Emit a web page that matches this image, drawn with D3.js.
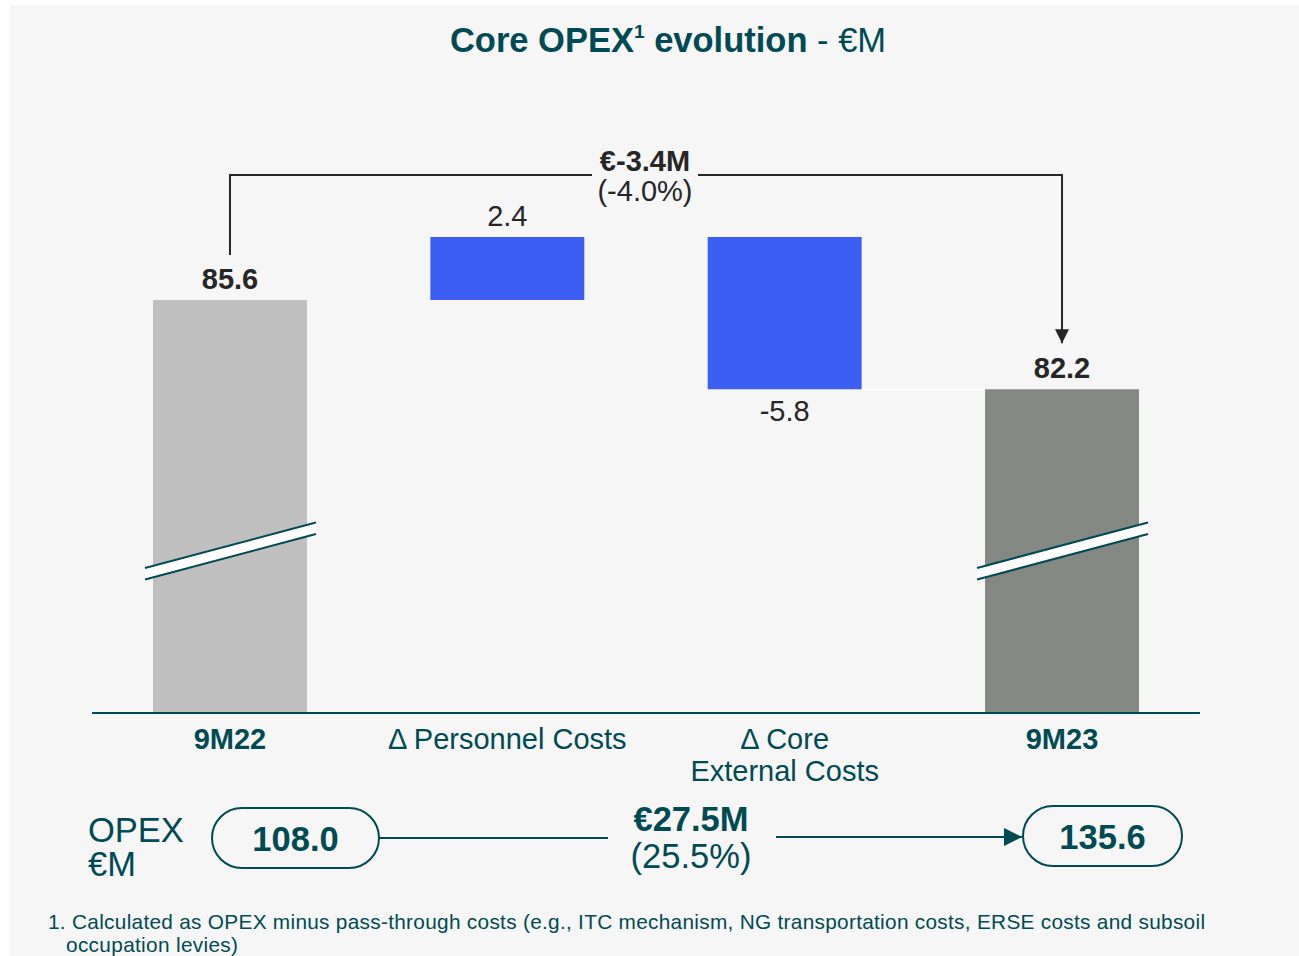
<!DOCTYPE html>
<html>
<head>
<meta charset="utf-8">
<script src="https://cdn.jsdelivr.net/npm/d3@7"></script>
<style>
  body { margin: 0; background: #fff; }
  svg { display: block; font-family: "Liberation Sans", Arial, sans-serif; }
</style>
</head>
<body>
<svg width="1299" height="956"></svg>
<script>
// data
const categories = ["9M22", "Δ Personnel Costs", "Δ Core|External Costs", "9M23"];
const values = [85.6, 2.4, -5.8, 82.2];
const kinds = ["total", "delta", "delta", "total"];
const deltaTotal = "€-3.4M", deltaPct = "(-4.0%)";
const opexValues = [108.0, 135.6];
const opexDelta = "€27.5M", opexPct = "(25.5%)";

const teal = "#004a53", dark = "#262626";
const svg = d3.select("svg");

svg.append("rect").attr("x", 10).attr("y", 5).attr("width", 1289).attr("height", 951)
    .attr("fill", "#f6f6f6");

// title
const title = svg.append("text").attr("x", 668).attr("y", 52)
    .attr("text-anchor", "middle").attr("fill", teal).attr("font-size", 34.5);
title.append("tspan").attr("font-weight", "bold").text("Core OPEX");
title.append("tspan").attr("font-weight", "bold").attr("font-size", 19).attr("dy", -14).text("1");
title.append("tspan").attr("dy", 14).attr("font-weight", "bold").text(" evolution");
title.append("tspan").text(" - €M");

// scales (broken axis: floor value sits on the baseline)
const x = d3.scaleBand().domain(categories).range([92, 1200]).paddingInner(0.445).paddingOuter(0.22);
const y = d3.scaleLinear().domain([69.87, 85.6]).range([713, 300]);

// compute waterfall steps
let run = 0;
const steps = values.map((v, i) => {
  let lo, hi;
  if (kinds[i] === "total") { lo = y.domain()[0]; hi = v; run = v; }
  else { const s = run; run = s + v; lo = Math.min(s, run); hi = Math.max(s, run); }
  return { cat: categories[i], v, kind: kinds[i], lo, hi, end: run, i };
});

const colors = ["#bfbfbf", "#3d5ef2", "#3d5ef2", "#848882"];

// connector between last delta and final total
svg.append("line")
    .attr("x1", x(categories[2]) + x.bandwidth()).attr("x2", x(categories[3]))
    .attr("y1", y(steps[2].end)).attr("y2", y(steps[2].end))
    .attr("stroke", "#ffffff").attr("stroke-width", 1.5);

svg.append("g").selectAll("rect").data(steps).enter().append("rect")
    .attr("x", d => x(d.cat)).attr("width", x.bandwidth())
    .attr("y", d => y(d.hi)).attr("height", d => y(d.lo) - y(d.hi))
    .attr("fill", (d, i) => colors[i]);

// value labels
svg.append("g").selectAll("text").data(steps).enter().append("text")
    .attr("x", d => x(d.cat) + x.bandwidth() / 2)
    .attr("y", d => d.kind === "delta" && d.v < 0 ? y(d.lo) + 31.5 : y(d.hi) - 11)
    .attr("text-anchor", "middle").attr("fill", dark).attr("font-size", 29)
    .attr("font-weight", d => d.kind === "total" ? "bold" : "normal")
    .text(d => d3.format(".1f")(d.v).replace("−", "-"));

// axis break marks on total bars
steps.filter(d => d.kind === "total").forEach(d => {
  const x0 = x(d.cat) - 8, x1 = x(d.cat) + x.bandwidth() + 9;
  const g = svg.append("g");
  g.append("polygon")
      .attr("points", `${x0},568 ${x1},522.5 ${x1},534 ${x0},579.5`)
      .attr("fill", "#ffffff");
  [[568, 522.5], [579.5, 534]].forEach(p => {
    g.append("line").attr("x1", x0).attr("y1", p[0]).attr("x2", x1).attr("y2", p[1])
        .attr("stroke", teal).attr("stroke-width", 2);
  });
});

// baseline
svg.append("line").attr("x1", 92).attr("x2", 1200).attr("y1", 713).attr("y2", 713)
    .attr("stroke", teal).attr("stroke-width", 2);

// category labels
categories.forEach((c, i) => {
  const t = svg.append("text").attr("x", x(c) + x.bandwidth() / 2).attr("y", 748.5)
      .attr("text-anchor", "middle").attr("fill", teal).attr("font-size", 29)
      .attr("font-weight", kinds[i] === "total" ? "bold" : "normal");
  c.split("|").forEach((line, j) => {
    t.append("tspan").attr("x", x(c) + x.bandwidth() / 2).attr("dy", j ? 32 : 0).text(line);
  });
});

// bracket between totals
const defs = svg.append("defs");
defs.append("marker").attr("id", "arrDark").attr("viewBox", "0 0 10 10")
    .attr("refX", 10).attr("refY", 5).attr("markerWidth", 7).attr("markerHeight", 7)
    .attr("markerUnits", "strokeWidth").attr("orient", "auto")
    .append("path").attr("d", "M0,0 L10,5 L0,10 Z").attr("fill", dark);
defs.append("marker").attr("id", "arrTeal").attr("viewBox", "0 0 10 10")
    .attr("refX", 10).attr("refY", 5)
    .attr("markerUnits", "userSpaceOnUse").attr("orient", "auto")
    .attr("markerWidth", 26).attr("markerHeight", 18)
    .append("path").attr("d", "M0,0 L10,5 L0,10 Z").attr("fill", teal);

const bx0 = x(categories[0]) + x.bandwidth() / 2, bx1 = x(categories[3]) + x.bandwidth() / 2;
const by = 175;
svg.append("path").attr("d", `M${bx0},${y(values[0]) - 45} V${by} H592`)
    .attr("fill", "none").attr("stroke", dark).attr("stroke-width", 2);
svg.append("path").attr("d", `M698,${by} H${bx1} V${y(values[3]) - 46}`)
    .attr("fill", "none").attr("stroke", dark).attr("stroke-width", 2)
    .attr("marker-end", "url(#arrDark)");
svg.append("text").attr("x", 645).attr("y", 170.5).attr("text-anchor", "middle")
    .attr("fill", dark).attr("font-size", 29).attr("font-weight", "bold").text(deltaTotal);
svg.append("text").attr("x", 645).attr("y", 201).attr("text-anchor", "middle")
    .attr("fill", dark).attr("font-size", 29).text(deltaPct);

// OPEX row
const ol = svg.append("text").attr("x", 88).attr("y", 841.5).attr("fill", teal).attr("font-size", 34.5);
ol.append("tspan").attr("x", 88).text("OPEX");
ol.append("tspan").attr("x", 88).attr("dy", 34.5).text("€M");

const pills = [{ v: opexValues[0], x0: 212, x1: 379, y0: 808 }, { v: opexValues[1], x0: 1023, x1: 1182, y0: 806 }];
pills.forEach(p => {
  svg.append("rect").attr("x", p.x0).attr("y", p.y0).attr("width", p.x1 - p.x0).attr("height", 60)
      .attr("rx", 30).attr("ry", 30).attr("fill", "none").attr("stroke", teal).attr("stroke-width", 2);
  svg.append("text").attr("x", (p.x0 + p.x1) / 2).attr("y", p.y0 + 42.5).attr("text-anchor", "middle")
      .attr("fill", teal).attr("font-size", 34.5).attr("font-weight", "bold").text(d3.format(".1f")(p.v));
});
svg.append("line").attr("x1", 379).attr("x2", 608).attr("y1", 838).attr("y2", 838)
    .attr("stroke", teal).attr("stroke-width", 2);
svg.append("line").attr("x1", 776).attr("x2", 1022).attr("y1", 837).attr("y2", 837)
    .attr("stroke", teal).attr("stroke-width", 2).attr("marker-end", "url(#arrTeal)");
svg.append("text").attr("x", 691).attr("y", 831).attr("text-anchor", "middle")
    .attr("fill", teal).attr("font-size", 34.5).attr("font-weight", "bold").text(opexDelta);
svg.append("text").attr("x", 691).attr("y", 868).attr("text-anchor", "middle")
    .attr("fill", teal).attr("font-size", 34.5).text(opexPct);

// footnote
svg.append("text").attr("fill", teal).attr("font-size", 20.8)
    .attr("x", 48).attr("y", 928.5)
    .attr("textLength", 1157).attr("lengthAdjust", "spacing")
    .text("1. Calculated as OPEX minus pass-through costs (e.g., ITC mechanism, NG transportation costs, ERSE costs and subsoil");
svg.append("text").attr("fill", teal).attr("font-size", 20.8)
    .attr("x", 66).attr("y", 951.5)
    .attr("textLength", 172).attr("lengthAdjust", "spacing")
    .text("occupation levies)");
</script>
</body>
</html>
